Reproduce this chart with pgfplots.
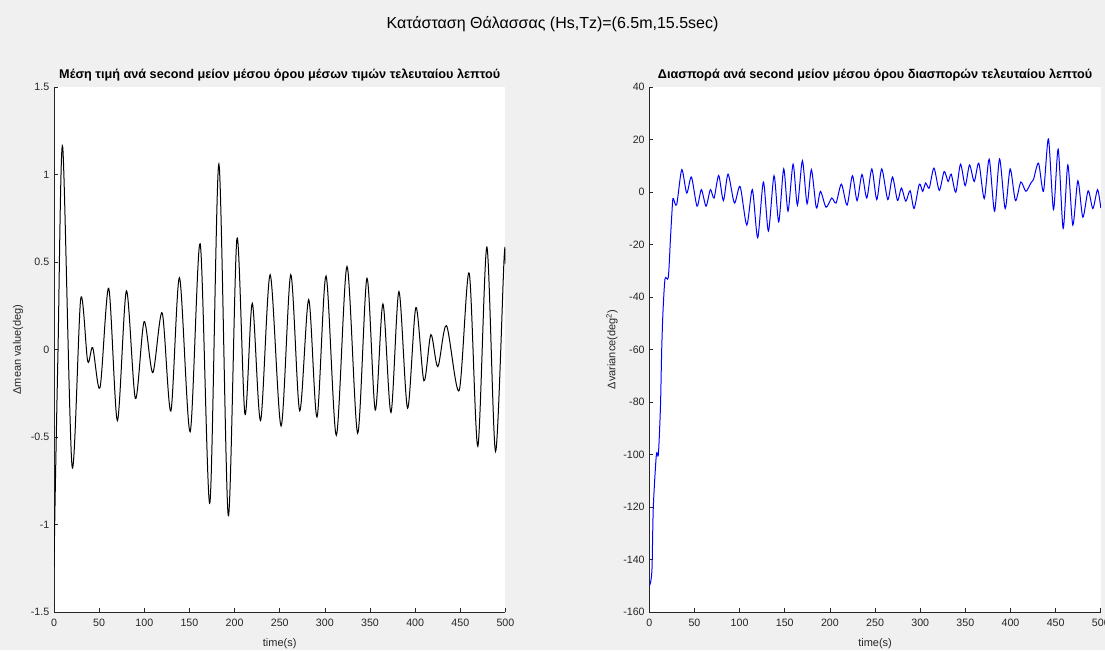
\documentclass[border=0pt]{standalone}
\usepackage{fontspec}
\setmainfont{Liberation Sans}
\usepackage{pgfplots}
\pgfplotsset{compat=1.18}
\definecolor{figbg}{RGB}{240,240,240}
\definecolor{axc}{RGB}{38,38,38}

\pgfplotsset{
  mstyle/.style={
    anchor=south west, scale only axis,
    width=338.6pt, height=393.75pt,
    axis x line*=bottom, axis y line*=left,
    axis line style={axc, line width=0.5pt},
    tick align=inside, major tick length=3pt,
    tick style={axc, line width=0.5pt},
    ticklabel style={font=\fontsize{8}{9}\selectfont, text=axc},
    xticklabel style={yshift=-1.5pt},
    /pgf/number format/assume math mode=true,
    xmin=0, xmax=500, xtick={0,50,...,500},
    axis background/.style={fill=white},
    title style={font=\bfseries\fontsize{9.5}{11}\selectfont, at={(0.5,1)}, anchor=base, yshift=0pt},
    label style={font=\fontsize{8.25}{10}\selectfont, text=axc},
    xlabel={time(s)},
    xlabel style={at={(axis description cs:0.5,-0.0605)}, anchor=center},
  }
}

\begin{document}
\begin{tikzpicture}
\path[use as bounding box] (0,0) rectangle (828.75pt,487.5pt);
\fill[figbg] (0,0) rectangle (828.75pt,487.5pt);
\node[font=\fontsize{12}{14}\selectfont, text=black] at (414.4pt,469.5pt)
  {Κατάσταση Θάλασσας (Hs,Tz)=(6.5m,15.5sec)};

% mean value deviation
\begin{axis}[mstyle, at={(40.5pt,28.5pt)},
  ymin=-1.5, ymax=1.5, ytick={-1.5,-1,...,1.5},
  title={Μέση τιμή ανά second μείον μέσου όρου μέσων τιμών τελευταίου λεπτού},
  ylabel={Δmean value(deg)},
  ylabel style={at={(axis description cs:-0.0797,0.5)}, anchor=center},
]
\addplot[black, line width=0.75pt, smooth] coordinates {
(0,-1.24) (1.5,-0.78) (4.4,-0.02) (9.6,1.16) (20,-0.667) (29.6,0.29)
(37.3,-0.067) (42.9,0.01)
(51,-0.217) (60.6,0.35) (70.2,-0.406) (80.2,0.335) (90.2,-0.28) (99.8,0.159)
(109.4,-0.132) (119.8,0.209) (129.4,-0.352) (139,0.41) (150.8,-0.47)
(161.9,0.604) (172.6,-0.878) (182.6,1.06) (193,-0.949) (202.6,0.634)
(211.5,-0.37) (219.6,0.264) (228.8,-0.406) (239.4,0.427) (251.5,-0.437)
(262.2,0.427) (272.1,-0.35) (282.1,0.285) (291.3,-0.386) (301.3,0.42)
(312.7,-0.49) (324.5,0.474) (336.3,-0.478) (346.6,0.407) (355.8,-0.346)
(364.3,0.26) (373.2,-0.36) (382,0.331) (391.6,-0.335) (400.8,0.24)
(409.7,-0.179) (417.4,0.085) (425.1,-0.098) (434.7,0.136) (448.7,-0.234)
(459.8,0.437) (469.4,-0.553) (479.4,0.585) (489,-0.583) (498.5,0.522)
(500,0.49)
};
\end{axis}

% variance deviation
\begin{axis}[mstyle, at={(487pt,28.5pt)},
  ymin=-160, ymax=40, ytick={-160,-140,...,40},
  title={Διασπορά ανά second μείον μέσου όρου διασπορών τελευταίου λεπτού},
  ylabel={Δvariance(deg\textsuperscript{2})},
  ylabel style={at={(axis description cs:-0.0827,0.5)}, anchor=center},
]
\addplot[blue, line width=0.75pt, smooth, tension=0.45] coordinates {
(0,-150) (1.5,-148.5) (3,-143) (4.4,-120) (7.8,-100) (10,-100)
(12.3,-82) (13.7,-60) (15.2,-45) (17.4,-33) (21,-32.5) (23.5,-17)
(25.7,-4) (26.6,-2.5) (30.3,-4.8) (35.9,8.5) (41.4,-0.4) (46.6,5.7)
(52.8,-5.4) (57.6,0.9) (62.8,-5.4) (67.6,0.9) (71.7,-2.3) (76.8,6.3)
(82,-3.3) (87.2,6.8) (94.2,-4.2) (100.5,2.1) (107.9,-12.6) (114.1,0.9)
(120,-17.4) (126.3,3.8) (131.9,-14.9) (138.1,6.2) (143.3,-11.4) (148.8,8.8)
(153.6,-7.3) (159.2,10.6) (164,-5.0) (169.5,11.9) (174.7,-4.5) (179.5,8.5)
(185,-6.1) (189.5,0.25) (195.7,-5.8) (202,-2.3) (206.8,-4.2) (212.7,3.0)
(219,-5) (224.9,6.2) (230.1,-3.3) (235.5,6.7) (240.8,-2.3) (246.4,8.8)
(251.9,-2.9) (257.4,8.8) (264.1,-2.9) (269.3,5.7) (274.8,-3.2) (279.2,1.5)
(284,-3.5) (288.8,0.5) (293.2,-6.3) (299,3.0) (302.7,0.25) (306,3.4)
(310,1.5) (315.2,9.1) (321.1,0.6) (326.5,7.8) (330.9,4.0) (334.3,6.8)
(339.4,-0.1) (344.6,10.6) (349.8,2.4) (354.6,10.3) (359.8,4.0) (364.9,11.0)
(370.9,-2.5) (376.4,12.5) (382.3,-7.3) (387.9,12.6) (394.1,-6.3) (399.6,8.8)
(405.5,-3.3) (411.4,3.8) (417,0.25) (422.5,3.4) (425.4,4.7) (431,11.0)
(436.5,0.25) (442,20.2) (447.6,-6.7) (452.8,16.3) (458.3,-13.9) (463.5,10.3)
(469,-12.6) (474.6,4.3) (480.1,-9.6) (486,0.5) (491.2,-6.3) (496.4,0.9)
(500,-6.1)
};
\end{axis}
\end{tikzpicture}
\end{document}
